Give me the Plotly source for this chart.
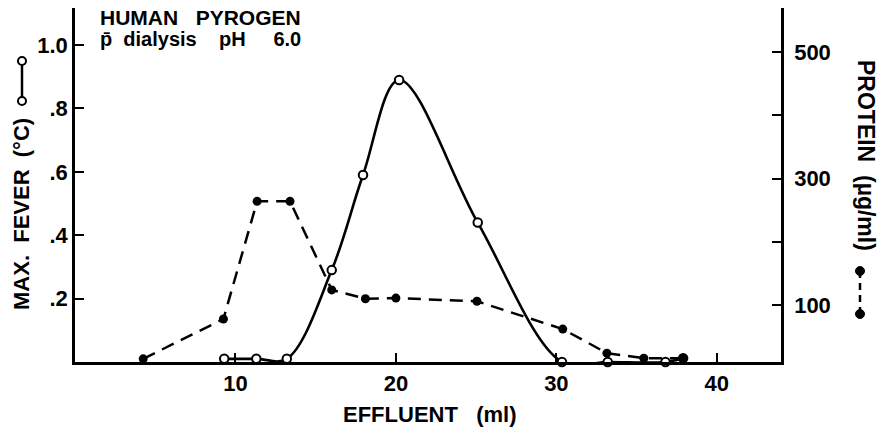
import plotly.graph_objects as go

# ---- data ----
fever_x = [9.3, 11.3, 13.2, 16.0, 17.95, 20.2, 25.1, 30.35, 33.2, 36.8, 37.9]
fever_y = [0.01, 0.01, 0.01, 0.29, 0.59, 0.89, 0.44, 0.0, 0.0, 0.0, 0.012]

protein_x = [4.25, 9.25, 11.35, 13.4, 16.0, 18.1, 20.0, 25.05, 30.4, 33.15, 35.45, 37.9]
protein_y = [15, 78, 264, 264, 124, 110, 111, 106, 62, 24, 16, 16]

x_ticks = [10, 20, 30, 40]
left_ticks = [0.2, 0.4, 0.6, 0.8, 1.0]
left_labels = [".2", ".4", ".6", ".8", "1.0"]
right_ticks = [100, 200, 300, 400, 500]
right_labels = ["100", "", "300", "", "500"]

# ---- layout geometry (pixels) ----
W, H = 880, 431
L, R, T, B = 75, 781, 8, 362
FONT = "Liberation Sans"
TICK_FS = 22


def px(x):
    return (x - L) / (R - L)


def py(y):
    return (B - y) / (B - T)


fig = go.Figure()

fig.add_trace(go.Scatter(
    x=protein_x, y=protein_y, yaxis="y2", mode="lines+markers",
    line=dict(color="black", width=2.5, dash="13px,8px"),
    marker=dict(symbol="circle", size=9, color="black"),
    cliponaxis=False, showlegend=False,
))
fig.add_trace(go.Scatter(
    x=fever_x, y=fever_y, mode="lines+markers",
    line=dict(color="black", width=2.6, shape="spline", smoothing=1.0),
    marker=dict(symbol="circle", size=8.5, color="white",
                line=dict(color="black", width=2)),
    cliponaxis=False, showlegend=False,
))

axis_common = dict(
    showline=True, linecolor="black", linewidth=2.5,
    ticks="inside", ticklen=9, tickwidth=2, tickcolor="black",
    showgrid=False, zeroline=False,
    tickfont=dict(family=FONT, size=TICK_FS, color="black", weight="bold"),
)

fig.update_layout(
    width=W, height=H,
    margin=dict(l=L, r=W - R, t=T, b=H - B, autoexpand=False),
    paper_bgcolor="white", plot_bgcolor="white",
    font=dict(family=FONT, color="black"),
    xaxis=dict(range=[0, 44], tickvals=x_ticks, ticklabelstandoff=0, **axis_common),
    yaxis=dict(range=[0, 1.117], tickvals=left_ticks, ticktext=left_labels,
               ticklabelstandoff=0, **axis_common),
    yaxis2=dict(range=[10, 569.7], tickvals=right_ticks, ticktext=right_labels,
                overlaying="y", side="right", ticklabelstandoff=6, **axis_common),
)

ann = []


def add_text(text, x, y, size, xanchor="center", yanchor="middle", angle=0):
    ann.append(dict(text=text, x=px(x), y=py(y), xref="paper", yref="paper",
                    xanchor=xanchor, yanchor=yanchor, textangle=angle,
                    showarrow=False,
                    font=dict(family=FONT, size=size, color="black", weight="bold")))


add_text("HUMAN\u00a0\u00a0\u00a0PYROGEN", 98, 18, 21, xanchor="left")
add_text("p\u0304\u00a0\u00a0dialysis\u00a0\u00a0\u00a0\u00a0pH\u00a0\u00a0\u00a0\u00a0\u00a06.0",
         98, 39, 20, xanchor="left")
add_text("EFFLUENT\u00a0\u00a0\u00a0(ml)", 430, 415, 22)
add_text("MAX.\u00a0\u00a0FEVER\u00a0\u00a0(°C)", 21, 214, 22, angle=-90)
add_text("PROTEIN\u00a0\u00a0(µg/ml)", 866, 155, 23, angle=90)
fig.update_layout(annotations=ann)

shapes = []
# left key: open circles joined by solid line
shapes.append(dict(type="line", xref="paper", yref="paper",
                   x0=px(22), x1=px(22), y0=py(61), y1=py(101),
                   line=dict(color="black", width=2.5)))
for yy in (61, 101):
    shapes.append(dict(type="circle", xref="paper", yref="paper",
                       xsizemode="pixel", ysizemode="pixel",
                       xanchor=px(22), yanchor=py(yy), x0=-4, x1=4, y0=-4, y1=4,
                       fillcolor="white", line=dict(color="black", width=2)))
# right key: filled circles joined by dashed line
shapes.append(dict(type="line", xref="paper", yref="paper",
                   x0=px(860), x1=px(860), y0=py(271), y1=py(314),
                   line=dict(color="black", width=2.5, dash="7px,5px")))
for yy in (271, 314):
    shapes.append(dict(type="circle", xref="paper", yref="paper",
                       xsizemode="pixel", ysizemode="pixel",
                       xanchor=px(860), yanchor=py(yy), x0=-4.5, x1=4.5, y0=-4.5, y1=4.5,
                       fillcolor="black", line=dict(color="black", width=1)))
fig.update_layout(shapes=shapes)

fig.write_html("out.html")
